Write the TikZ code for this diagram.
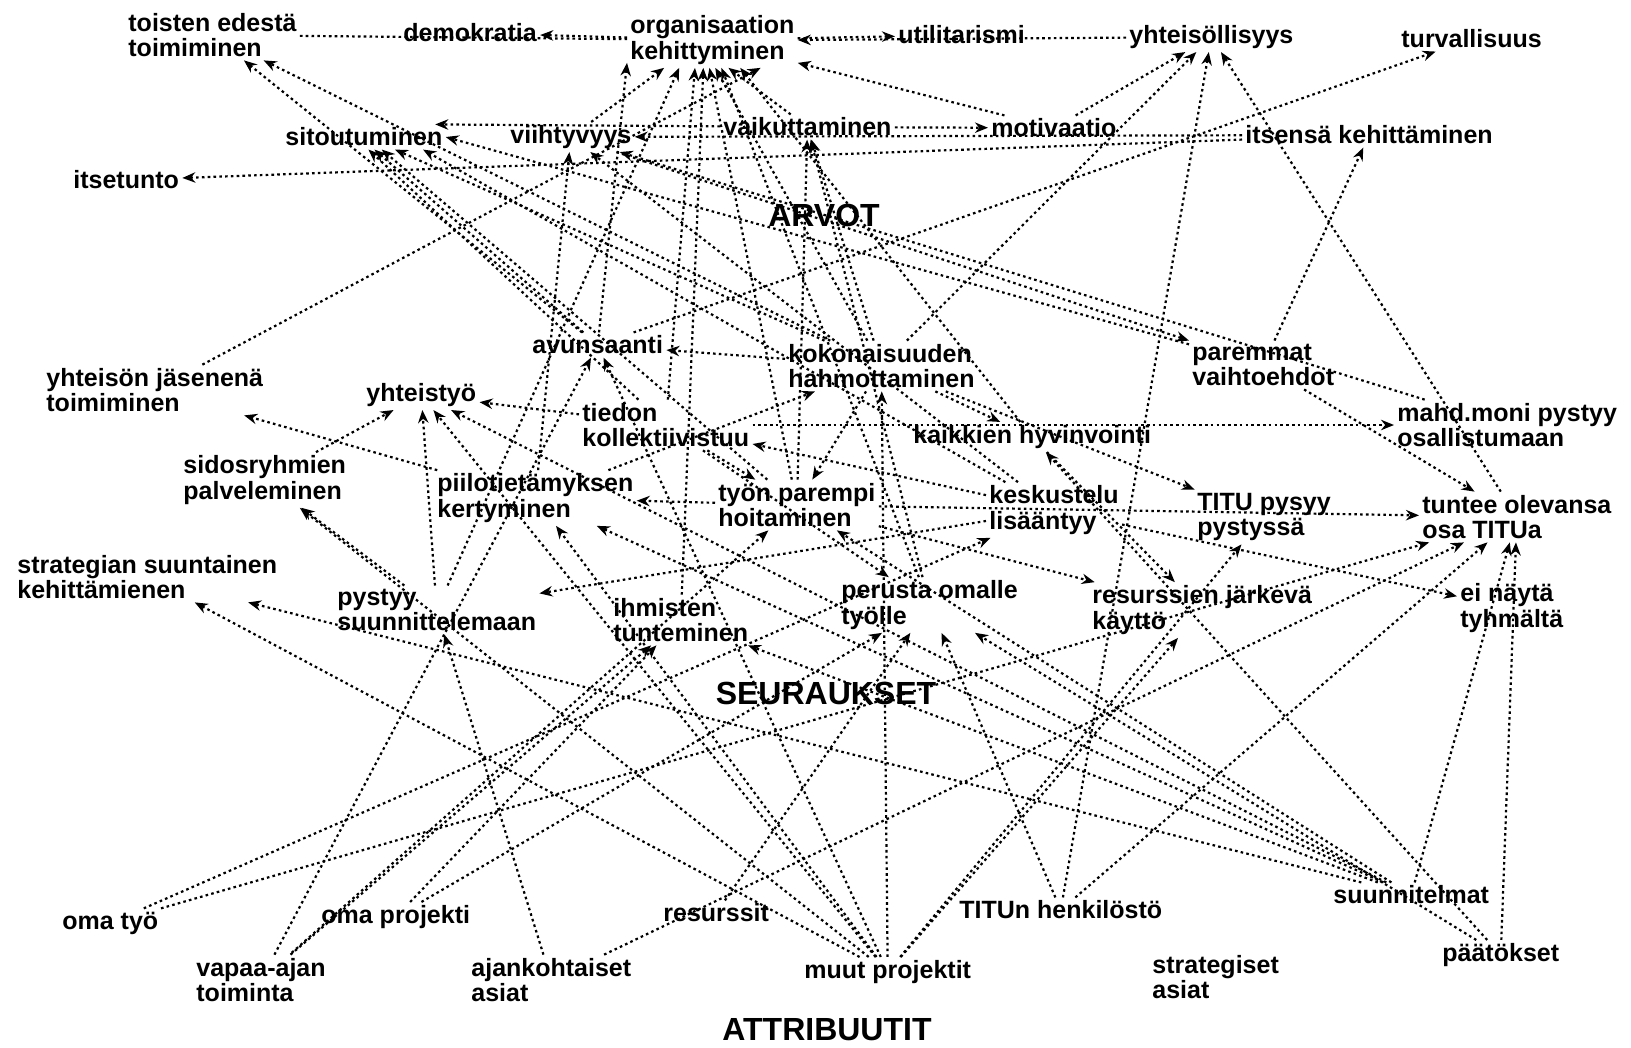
\documentclass[tikz,border=0pt]{standalone}
\usepackage{fontspec}
\setmainfont{Liberation Sans}
\usetikzlibrary{arrows.meta}
\newcommand\lblfont{\fontsize{12.5}{12.8}\selectfont\bfseries}
\newcommand\hdrfont{\fontsize{16}{18}\selectfont\bfseries}
\begin{document}
\begin{tikzpicture}[x=0.5pt,y=-0.5pt,
  lab/.style={anchor=west, align=left, font=\lblfont, inner sep=1.5pt},
  hdr/.style={font=\hdrfont, inner sep=1pt},
  link/.style={line width=1.1pt, dash pattern=on 1.3pt off 1.6pt,
    -{Stealth[length=6.5pt,width=5.2pt]}},
  plain/.style={line width=1.1pt, dash pattern=on 1.3pt off 1.6pt}]
\useasboundingbox[fill=white] (0,0) rectangle (1631,1048);

% ---- values ----
\node[lab] (toi)  at (125,35)  {toisten edestä\\toimiminen};
\node[lab] (demo) at (400,33)  {demokratia};
\node[lab] (org)  at (627,40)  {organisaation\\kehittyminen};
\node[lab] (util) at (895,35)  {utilitarismi};
\node[lab] (yhts) at (1126,37) {yhteisöllisyys};
\node[lab] (turv) at (1398,39) {turvallisuus};
\node[lab] (sit)  at (282,137) {sitoutuminen};
\node[lab] (viih) at (507,137) {viihtyvyys};
\node[lab] (vaik) at (720,127) {vaikuttaminen};
\node[lab] (moti) at (988,128) {motivaatio};
\node[lab] (itse) at (1242,135) {itsensä kehittäminen};
\node[lab] (itsu) at (70,180)  {itsetunto};
\node[hdr] (arvot) at (824,215) {ARVOT};

% ---- consequences ----
\node[lab] (avun) at (529,345)  {avunsaanti};
\node[lab] (koko) at (785,366)  {kokonaisuuden\\hahmottaminen};
\node[lab] (pare) at (1189,365) {paremmat\\vaihtoehdot};
\node[lab] (yjas) at (43,390)   {yhteisön jäsenenä\\toimiminen};
\node[lab] (ytyo) at (363,395)  {yhteistyö};
\node[lab] (tied) at (579,425)  {tiedon\\kollektiivistuu};
\node[lab] (kaik) at (910,437)  {kaikkien hyvinvointi};
\node[lab] (mahd) at (1394,425) {mahd.moni pystyy\\osallistumaan};
\node[lab] (sido) at (180,480)  {sidosryhmien\\palveleminen};
\node[lab] (piil) at (434,498)  {piilotietämyksen\\kertyminen};
\node[lab] (tyon) at (715,505)  {työn parempi\\hoitaminen};
\node[lab] (kesk) at (986,510)  {keskustelu\\lisääntyy};
\node[lab] (titu) at (1194,517) {TITU pysyy\\pystyssä};
\node[lab] (tunt) at (1419,517) {tuntee olevansa\\osa TITUa};
\node[lab] (stra) at (14,577)   {strategian suuntainen\\kehittämienen};
\node[lab] (pyst) at (334,610)  {pystyy\\suunnittelemaan};
\node[lab] (ihmi) at (610,620)  {ihmisten\\tunteminen};
\node[lab] (peru) at (838,605)  {perusta omalle\\työlle};
\node[lab] (resu) at (1089,610) {resurssien järkevä\\käyttö};
\node[lab] (eina) at (1457,608) {ei näytä\\tyhmältä};
\node[hdr] (seur) at (826,693)  {SEURAUKSET};

% ---- attributes ----
\node[lab] (omat)  at (59,923)   {oma työ};
\node[lab] (vapa)  at (193,980)  {vapaa-ajan\\toiminta};
\node[lab] (omap)  at (318,917)  {oma projekti};
\node[lab] (ajan)  at (468,980)  {ajankohtaiset\\asiat};
\node[lab] (resr)  at (660,913)  {resurssit};
\node[lab] (muut)  at (801,972)  {muut projektit};
\node[lab] (henk)  at (956,910)  {TITUn henkilöstö};
\node[lab] (stras) at (1149,977) {strategiset\\asiat};
\node[lab] (suun)  at (1330,895) {suunnitelmat};
\node[lab] (paat)  at (1439,955) {päätökset};
\node[hdr] (attr)  at (827,1030) {ATTRIBUUTIT};

% ---- links ----
\draw[plain] (toi) -- (org);
% links ending along the lower edge of "organisaation kehittyminen"
\foreach \a/\b in {
  avun/org.-165, viih/org.-150, pyst/org.-140, tied/org.-122, ihmi/org.-108,
  tyon/org.-96, koko/org.-84, peru/org.-72, vaik/org.-60, kaik/org.-45,
  yjas/org.-30, moti/org.-15, yhts/org.east}
  \draw[link] (\a) -- (\b);
% links ending at "sitoutuminen"
\foreach \a/\b in {
  vaik/sit.10, pare/sit.0, kesk/sit.-12, koko/sit.-22, tyon/sit.-35,
  avun/sit.-50, tied/sit.-70}
  \draw[link] (\a) -- (\b);
\foreach \a/\b in {
  org/demo, org/util,
  itse/itsu, itse/viih, vaik/moti, moti/yhts, koko/yhts, henk/yhts,
  tunt/yhts, avun/turv, pare/itse, avun/toi, koko/toi,
  piil/viih, kesk/viih, mahd/viih,
  tyon/vaik, peru/vaik, koko/vaik,
  koko/avun, vapa/avun, muut/avun, piil/koko, muut/koko, viih/pare,
  piil/yjas, sido/ytyo, tied/ytyo, muut/ytyo, suun/ytyo, pyst/ytyo,
  kesk/tied, koko/kaik, tied/mahd, muut/sido, pyst/sido,
  tyon/piil, muut/piil, suun/piil,
  tied/tyon, koko/tyon, suun/tyon, omat/kesk,
  koko/titu, muut/titu,
  omat/tunt, ajan/tunt, henk/tunt, suun/tunt, paat/tunt, tyon/tunt, pare/tunt,
  suun/stra, muut/stra, kesk/pyst, ajan/pyst,
  vapa/ihmi, omap/ihmi, suun/ihmi,
  omap/peru, resr/peru, henk/peru, tied/peru, paat/peru,
  tyon/resu, kaik/resu, muut/resu, kesk/eina, paat/kaik}
  \draw[link] (\a) -- (\b);
% second line from vapaa-ajan toiminta, offset so the shared stretch reads solid
\draw[link, dash phase=1.45pt] (vapa) -- (tyon);
\end{tikzpicture}
\end{document}
